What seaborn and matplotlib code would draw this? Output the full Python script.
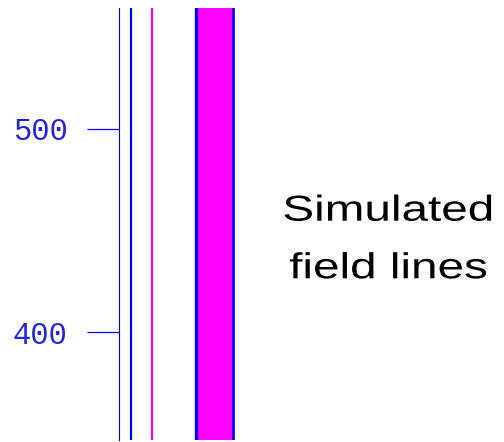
import numpy as np
import pandas as pd
import matplotlib
matplotlib.use("Agg")
import matplotlib.pyplot as plt
import matplotlib.patheffects as pe
from matplotlib.transforms import Affine2D
import seaborn as sns

# Field line x-positions (data units along the horizontal axis)
blue_lines_x = [12.0]
magenta_lines_x = [33.0]
band_left_x = 76.5
band_right_x = 113.8
y_range = [346.8, 559.6]
y_ticks = [400, 500]
y_tick_labels = ["400", "500"]
label_lines = ["Simulated", "field lines"]

sns.set_style("white")
plt.rcParams['font.family'] = ['Liberation Sans', 'DejaVu Sans']


class HStretch(pe.AbstractPathEffect):
    """Widen glyphs horizontally about a fixed display x."""
    def __init__(self, sx, x0):
        super().__init__()
        self.sx = sx
        self.x0 = x0

    def draw_path(self, renderer, gc, tpath, affine, rgbFace=None):
        t = affine + Affine2D().translate(-self.x0, 0).scale(self.sx, 1).translate(self.x0, 0)
        renderer.draw_path(gc, tpath, t, rgbFace)


fig = plt.figure(figsize=(5.04, 4.42), dpi=100)
ax = fig.add_axes([119/504, 2/442, (504-119)/504, (440-8)/442])

rows = []
for i, x in enumerate(blue_lines_x):
    rows += [dict(x=x, y=y_range[0], line=f"b{i}"), dict(x=x, y=y_range[1], line=f"b{i}")]
df_blue = pd.DataFrame(rows)
rows = []
for i, x in enumerate(magenta_lines_x):
    rows += [dict(x=x, y=y_range[0], line=f"m{i}"), dict(x=x, y=y_range[1], line=f"m{i}")]
df_mag = pd.DataFrame(rows)

sns.lineplot(data=df_blue, x="x", y="y", units="line", estimator=None, orient="y",
             color="#0000ff", lw=1.6, ax=ax, sort=False)
sns.lineplot(data=df_mag, x="x", y="y", units="line", estimator=None, orient="y",
             color="#ff00ff", lw=1.6, ax=ax, sort=False)

ax.fill_betweenx(y_range, band_left_x, band_right_x, color="#ff00ff", lw=0)
ax.plot([band_left_x]*2, y_range, color="#0000ff", lw=2.4)
ax.plot([band_right_x]*2, y_range, color="#0000ff", lw=2.0)

ax.set_xlim(0, 385)
ax.set_ylim(*y_range)
ax.set_xlabel("")
ax.set_ylabel("")
ax.set_xticks([])
ax.set_yticks(y_ticks)
ax.set_yticklabels(y_tick_labels, fontfamily="Liberation Mono", fontsize=22, color="#2424e0")
ax.tick_params(axis="y", length=23, width=0.9, color="#0000ff", pad=14, left=True)
for s in ["top", "right", "bottom"]:
    ax.spines[s].set_visible(False)
ax.spines["left"].set_color("#0000ff")
ax.spines["left"].set_linewidth(0.8)
ax.patch.set_alpha(0)

cx = 388
stretch = [HStretch(1.32, cx)]
fig.text(cx/504, 1 - 220.7/442, label_lines[0], fontsize=26, color="black",
         ha="center", va="baseline", path_effects=stretch)
fig.text(cx/504, 1 - 278.3/442, label_lines[1], fontsize=26, color="black",
         ha="center", va="baseline", path_effects=stretch)

fig.savefig("out.png", dpi=100, facecolor="white")
